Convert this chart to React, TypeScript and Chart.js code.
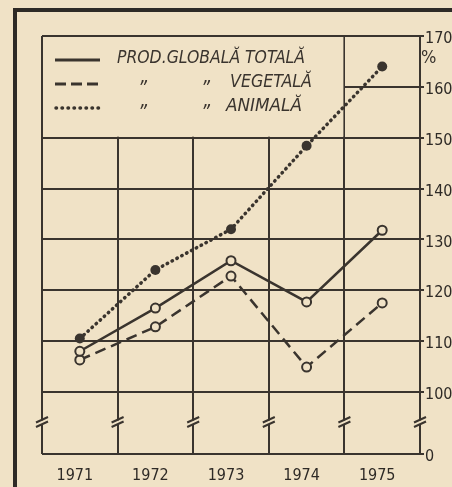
import React, { useEffect, useRef } from "react";
import { Chart, registerables } from "chart.js";

Chart.register(...registerables);

const years = ["1971", "1972", "1973", "1974", "1975"];
const totalValues = [108, 116.5, 125.8, 117.7, 131.8];
const vegetalValues = [106.3, 112.8, 122.8, 104.9, 117.5];
const animalValues = [110.5, 124, 132, 148.4, 164];
const yTickValues = [100, 110, 120, 130, 140, 150, 160, 170];
const yBaseValue = 87.8; // where the broken axis shows "0"
const yBaseLabel = "0";
const yBreakValue = 94;
const unitLabel = "%";
const legendTitle = "PROD.GLOBALĂ TOTALĂ";
const legendVegetal = "VEGETALĂ";
const legendAnimal = "ANIMALĂ";
const dittoMark = "\u201D";

const BG = "#f0e2c6";
const INK = "#3a342e";
const FONT = "'DejaVu Sans Condensed', 'Liberation Sans Narrow', 'DejaVu Sans', sans-serif";

function fitText(ctx: CanvasRenderingContext2D, text: string, x: number, y: number, w: number) {
  const m = ctx.measureText(text).width || 1;
  ctx.save();
  ctx.translate(x, y);
  ctx.scale(w / m, 1);
  ctx.fillText(text, 0, 0);
  ctx.restore();
}

const paperPlugin = {
  id: "paper",
  beforeDraw(chart: any) {
    const ctx = chart.ctx as CanvasRenderingContext2D;
    ctx.save();
    ctx.fillStyle = BG;
    ctx.fillRect(0, 0, chart.width, chart.height);
    ctx.strokeStyle = "#2e2a26";
    ctx.lineWidth = 4;
    ctx.beginPath();
    ctx.moveTo(15, chart.height);
    ctx.lineTo(15, 10);
    ctx.lineTo(chart.width, 10);
    ctx.stroke();
    ctx.restore();
  },
  beforeDatasetsDraw(chart: any) {
    const ctx = chart.ctx as CanvasRenderingContext2D;
    const x = chart.scales.x;
    const y = chart.scales.y;
    const area = chart.chartArea;
    const L = area.left;
    const T = area.top;
    const R = (x.getPixelForValue(3) + x.getPixelForValue(4)) / 2;
    const B = y.getPixelForValue(150);
    ctx.save();
    ctx.fillStyle = BG;
    ctx.fillRect(L + 1, T + 1, R - L - 2, B - T - 2);
    // samples
    ctx.strokeStyle = INK;
    ctx.lineWidth = 3;
    ctx.lineCap = "butt";
    ctx.beginPath();
    ctx.moveTo(L + 13, T + 24);
    ctx.lineTo(L + 58, T + 24);
    ctx.stroke();
    ctx.setLineDash([11, 5]);
    ctx.beginPath();
    ctx.moveTo(L + 13, T + 48);
    ctx.lineTo(L + 58, T + 48);
    ctx.stroke();
    ctx.setLineDash([0.5, 5.5]);
    ctx.lineCap = "round";
    ctx.lineWidth = 3.5;
    ctx.beginPath();
    ctx.moveTo(L + 14, T + 72);
    ctx.lineTo(L + 58, T + 72);
    ctx.stroke();
    ctx.setLineDash([]);
    // text
    ctx.fillStyle = INK;
    ctx.font = "italic 17px " + FONT;
    ctx.textBaseline = "middle";
    fitText(ctx, legendTitle, L + 75, T + 23, 188);
    fitText(ctx, legendVegetal, L + 188, T + 47, 82);
    fitText(ctx, legendAnimal, L + 184, T + 71, 76);
    ctx.font = "italic 22px " + FONT;
    ctx.textBaseline = "alphabetic";
    fitText(ctx, dittoMark, L + 96, T + 60, 9);
    fitText(ctx, dittoMark, L + 159, T + 60, 9);
    fitText(ctx, dittoMark, L + 96, T + 84, 9);
    fitText(ctx, dittoMark, L + 159, T + 84, 9);
    ctx.restore();
  },
  afterDraw(chart: any) {
    const ctx = chart.ctx as CanvasRenderingContext2D;
    const x = chart.scales.x;
    const y = chart.scales.y;
    const yb = y.getPixelForValue(yBreakValue);
    const xs: number[] = [];
    for (let i = 0; i < years.length; i++) {
      xs.push(x.getPixelForValue(i) - (x.getPixelForValue(1) - x.getPixelForValue(0)) / 2);
    }
    xs.push(chart.chartArea.right);
    ctx.save();
    for (const px of xs) {
      ctx.fillStyle = BG;
      ctx.fillRect(px - 3, yb - 2, 6, 4);
      ctx.strokeStyle = INK;
      ctx.lineWidth = 2;
      ctx.beginPath();
      ctx.moveTo(px - 6, yb);
      ctx.lineTo(px + 6, yb - 5.5);
      ctx.moveTo(px - 6, yb + 4.5);
      ctx.lineTo(px + 6, yb - 1);
      ctx.stroke();
    }
    ctx.fillStyle = INK;
    ctx.font = "18px " + FONT;
    ctx.textBaseline = "middle";
    ctx.textAlign = "left";
    ctx.fillText(unitLabel, chart.chartArea.right + 1, 58);
    ctx.restore();
  },
};

export default function App() {
  const ref = useRef<HTMLCanvasElement | null>(null);
  useEffect(() => {
    if (!ref.current) return;
    const chart = new Chart(ref.current, {
      type: "line",
      data: {
        labels: years,
        datasets: [
          {
            label: "total",
            data: totalValues,
            borderColor: INK,
            borderWidth: 2.5,
            pointRadius: 4.5,
            pointBorderWidth: 2,
            pointBackgroundColor: BG,
            pointBorderColor: INK,
            tension: 0,
          },
          {
            label: "vegetal",
            data: vegetalValues,
            borderColor: INK,
            borderWidth: 2.5,
            borderDash: [11, 6],
            pointRadius: 4.5,
            pointBorderWidth: 2,
            pointBackgroundColor: BG,
            pointBorderColor: INK,
            tension: 0,
          },
          {
            label: "animal",
            data: animalValues,
            borderColor: INK,
            borderWidth: 3.5,
            borderDash: [0.5, 5],
            borderCapStyle: "round",
            pointRadius: 5,
            pointBorderWidth: 0,
            pointBackgroundColor: INK,
            tension: 0,
          },
        ],
      },
      options: {
        animation: false,
        responsive: false,
        devicePixelRatio: 1,
        layout: { padding: { left: 42, top: 36, right: 0, bottom: 0 } },
        plugins: { legend: { display: false }, tooltip: { enabled: false } },
        scales: {
          x: {
            type: "category",
            offset: true,
            border: { display: false },
            grid: { offset: true, color: INK, lineWidth: 2, drawTicks: false },
            ticks: {
              color: "#2e2a26",
              padding: 12,
              labelOffset: -5,
              font: { family: FONT, size: 16 },
            },
            afterFit(scale: any) {
              scale.height = 33;
            },
          },
          y: {
            position: "right",
            min: yBaseValue,
            max: 170,
            border: { display: false },
            grid: { color: INK, lineWidth: 2, tickLength: 4 },
            ticks: {
              color: "#2e2a26",
              padding: 1,
              labelOffset: 3,
              font: { family: FONT, size: 16 },
              callback: (v: any) => (Number(v) < 95 ? yBaseLabel : String(v)),
            },
            afterBuildTicks(scale: any) {
              scale.ticks = [yBaseValue, ...yTickValues].map((v) => ({ value: v }));
            },
            afterFit(scale: any) {
              scale.width = 32;
            },
          },
        },
      },
      plugins: [paperPlugin],
    } as any);
    return () => chart.destroy();
  }, []);
  return (
    <div style={{ position: "absolute", left: 0, top: 0, width: 452, height: 487, background: BG, overflow: "hidden" }}>
      <canvas ref={ref} width={452} height={487} style={{ display: "block" }} />
    </div>
  );
}
